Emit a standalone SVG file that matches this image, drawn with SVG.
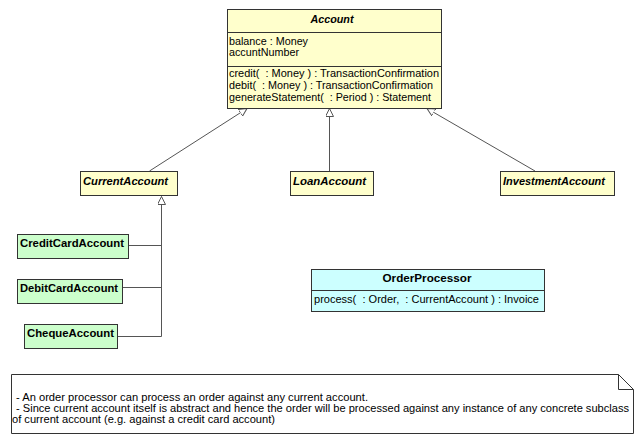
<svg xmlns="http://www.w3.org/2000/svg" width="643" height="441" viewBox="0 0 643 441">
<style>
text{font-family:"Liberation Sans",Arial,sans-serif;font-size:11px;fill:#000}
.n{font-weight:bold}
.a{font-weight:bold;font-style:italic}
.box{stroke:#333;stroke-width:1}
.y{fill:#ffffcc}
.g{fill:#ccffcc}
.c{fill:#ccffff}
.w{fill:#fff}
.e{stroke:#555;stroke-width:1;fill:none}
</style>
<defs>
<marker id="gen" markerWidth="10" markerHeight="10" refX="8" refY="4" orient="auto" markerUnits="userSpaceOnUse">
<path d="M0,0 L8,4 L0,8 Z" fill="#fff" stroke="#555" stroke-width="1"/>
</marker>
</defs>
<rect width="643" height="441" fill="#fff"/>
<g id="connectors">
<path class="e" d="M149.5,171 L247,108.5" marker-end="url(#gen)"/>
<path class="e" d="M329.5,171 L329.5,108.5" marker-end="url(#gen)"/>
<path class="e" d="M535,171 L427,108.5" marker-end="url(#gen)"/>
<path class="e" d="M129,245.5 H161.5 V196.5" marker-end="url(#gen)"/>
<path class="e" d="M123,287.5 H161.5"/>
<path class="e" d="M118,336.5 H161.5 V245"/>
</g>
<g id="Account">
<rect class="box y" x="227.5" y="9.5" width="214" height="99"/>
<line class="box" x1="227.5" y1="32.5" x2="441.5" y2="32.5"/>
<line class="box" x1="227.5" y1="66.5" x2="441.5" y2="66.5"/>
<text class="a" x="332" y="23" text-anchor="middle" textLength="43" lengthAdjust="spacingAndGlyphs">Account</text>
<text x="229" y="45" textLength="79" lengthAdjust="spacingAndGlyphs">balance : Money</text>
<text x="229" y="56" textLength="70" lengthAdjust="spacingAndGlyphs">accuntNumber</text>
<text x="229" y="77" textLength="210" lengthAdjust="spacingAndGlyphs" xml:space="preserve">credit(  : Money ) : TransactionConfirmation</text>
<text x="229" y="89" textLength="204" lengthAdjust="spacingAndGlyphs" xml:space="preserve">debit(  : Money ) : TransactionConfirmation</text>
<text x="229" y="101" textLength="202" lengthAdjust="spacingAndGlyphs" xml:space="preserve">generateStatement(  : Period ) : Statement</text>
</g>
<g id="CurrentAccount">
<rect class="box y" x="80.5" y="171.5" width="97" height="24"/>
<text class="a" x="83" y="185" textLength="85" lengthAdjust="spacingAndGlyphs">CurrentAccount</text>
</g>
<g id="LoanAccount">
<rect class="box y" x="290.5" y="171.5" width="83" height="24"/>
<text class="a" x="293" y="185" textLength="73" lengthAdjust="spacingAndGlyphs">LoanAccount</text>
</g>
<g id="InvestmentAccount">
<rect class="box y" x="500.5" y="171.5" width="114" height="24"/>
<text class="a" x="503" y="185" textLength="102" lengthAdjust="spacingAndGlyphs">InvestmentAccount</text>
</g>
<g id="CreditCardAccount">
<rect class="box g" x="17.5" y="234.5" width="111" height="24"/>
<text class="n" x="20" y="247" textLength="104" lengthAdjust="spacingAndGlyphs">CreditCardAccount</text>
</g>
<g id="DebitCardAccount">
<rect class="box g" x="17.5" y="279.5" width="105" height="24"/>
<text class="n" x="20" y="292" textLength="98" lengthAdjust="spacingAndGlyphs">DebitCardAccount</text>
</g>
<g id="ChequeAccount">
<rect class="box g" x="24.5" y="324.5" width="93" height="24"/>
<text class="n" x="27" y="337" textLength="87" lengthAdjust="spacingAndGlyphs">ChequeAccount</text>
</g>
<g id="OrderProcessor">
<rect class="box c" x="311.5" y="269.5" width="233" height="42"/>
<line class="box" x1="311.5" y1="290.5" x2="544.5" y2="290.5"/>
<text class="n" x="427" y="282" text-anchor="middle" textLength="89" lengthAdjust="spacingAndGlyphs">OrderProcessor</text>
<text x="314" y="303" textLength="225" lengthAdjust="spacingAndGlyphs" xml:space="preserve">process(  : Order,  : CurrentAccount ) : Invoice</text>
</g>
<g id="Note">
<path class="box w" d="M11.5,374.5 H618.5 L633.5,389.5 V433.5 H11.5 Z"/>
<path class="box" fill="none" d="M618.5,374.5 V389.5 H633.5"/>
<text x="16" y="401" textLength="352" lengthAdjust="spacingAndGlyphs">- An order processor can process an order against any current account.</text>
<text x="16" y="412" textLength="613" lengthAdjust="spacingAndGlyphs">- Since current account itself is abstract and hence the order will be processed against any instance of any concrete subclass</text>
<text x="12" y="423" textLength="263" lengthAdjust="spacingAndGlyphs">of current account (e.g. against a credit card account)</text>
</g>
</svg>
